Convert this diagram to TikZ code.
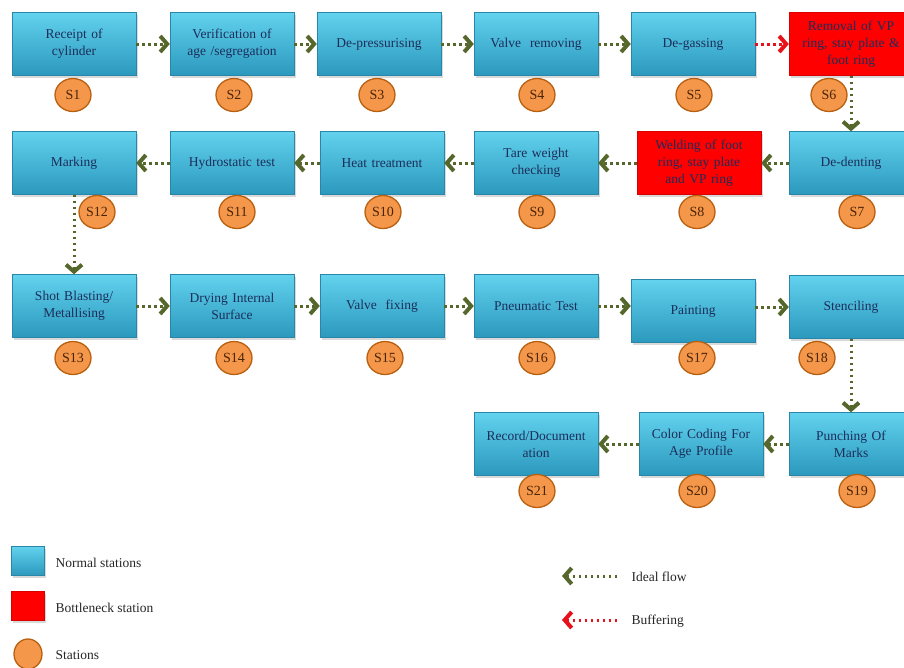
\documentclass[tikz,border=0pt]{standalone}
\usepackage{fontspec}
\setmainfont{Liberation Serif}
\usetikzlibrary{arrows.meta,shadows,shapes.geometric}
\definecolor{boxtop}{HTML}{62D2EE}
\definecolor{boxbot}{HTML}{2B98BD}
\definecolor{boxedge}{HTML}{2A86A6}
\definecolor{boxtext}{HTML}{1C2E5A}
\definecolor{numfill}{HTML}{F5974A}
\definecolor{numedge}{HTML}{B8600F}
\definecolor{numtext}{HTML}{4A2508}
\definecolor{flowgreen}{HTML}{56672C}
\definecolor{bufred}{HTML}{E8101A}
\newcommand\boxfont{\fontsize{13.5}{17}\selectfont}
\newcommand\numfont{\fontsize{14}{16}\selectfont}
\newcommand\legfont{\fontsize{13.5}{15}\selectfont}
\tikzset{
  station/.style={draw=boxedge, top color=boxtop, bottom color=boxbot,
    minimum width=124pt, minimum height=63pt, text width=112pt, align=center,
    inner sep=1pt, font=\boxfont, text=boxtext,
    drop shadow={opacity=0.3, shadow xshift=1.5pt, shadow yshift=-2pt}},
  bottleneck/.style={station, top color=red, bottom color=red, draw=red!85!black},
  stnum/.style={ellipse, draw=numedge, line width=1.3pt, fill=numfill,
    minimum width=36pt, minimum height=33pt, inner sep=0pt, font=\numfont, text=numtext},
  flow/.style={draw=flowgreen, line width=3pt, dash pattern=on 2.5pt off 3.5pt,
    -{Straight Barb[length=7pt, width=16pt, line width=4pt]}},
  buffer/.style={flow, draw=bufred},
  legtext/.style={anchor=west, font=\legfont, text=black!85}
}
\begin{document}
\begin{tikzpicture}[x=1pt, y=-1pt]
\useasboundingbox (0,0) rectangle (904,667);

\node[station] (b1) at (74,44) {Receipt of\\cylinder};
\node[station] (b2) at (232,44) {Verification of\\age /segregation};
\node[station] (b3) at (379,44) {De-pressurising};
\node[station] (b4) at (536,44) {Valve~ removing};
\node[station] (b5) at (693,44) {De-gassing};
\node[bottleneck] (b6) at (851,44) {Removal of VP\\ring, stay plate \&\\foot ring};

\node[station] (b12) at (74,163) {Marking};
\node[station] (b11) at (232,163) {Hydrostatic test};
\node[station] (b10) at (382,163) {Heat treatment};
\node[station] (b9) at (536,163) {Tare weight\\checking};
\node[bottleneck] (b8) at (699,163) {Welding of foot\\ring, stay plate\\and VP ring};
\node[station] (b7) at (851,163) {De-denting};

\node[station] (b13) at (74,306) {Shot Blasting/\\Metallising};
\node[station] (b14) at (232,306) {Drying Internal\\Surface};
\node[station] (b15) at (382,306) {Valve~ fixing};
\node[station] (b16) at (536,306) {Pneumatic Test};
\node[station] (b17) at (693,311) {Painting};
\node[station] (b18) at (851,307) {Stenciling};

\node[station] (b21) at (536,444) {Record/Document\\ation};
\node[station] (b20) at (701,444) {Color Coding For\\Age Profile};
\node[station] (b19) at (851,444) {Punching Of\\Marks};

\node[stnum] (c1) at (73,95) {S1};
\node[stnum] (c2) at (234,95) {S2};
\node[stnum] (c3) at (377,95) {S3};
\node[stnum] (c4) at (537,95) {S4};
\node[stnum] (c5) at (694,95) {S5};
\node[stnum] (c6) at (829,95) {S6};
\node[stnum] (c7) at (857,212) {S7};
\node[stnum] (c8) at (697,212) {S8};
\node[stnum] (c9) at (537,212) {S9};
\node[stnum] (c10) at (383,212) {S10};
\node[stnum] (c11) at (237,212) {S11};
\node[stnum] (c12) at (97,212) {S12};
\node[stnum] (c13) at (73,358) {S13};
\node[stnum] (c14) at (234,358) {S14};
\node[stnum] (c15) at (385,358) {S15};
\node[stnum] (c16) at (537,358) {S16};
\node[stnum] (c17) at (697,358) {S17};
\node[stnum] (c18) at (817,358) {S18};
\node[stnum] (c19) at (857,491) {S19};
\node[stnum] (c20) at (697,491) {S20};
\node[stnum] (c21) at (537,491) {S21};

\draw[flow] (b1) -- (b2);
\draw[flow] (b2) -- (b3);
\draw[flow] (b3) -- (b4);
\draw[flow] (b4) -- (b5);
\draw[buffer] (b5) -- (b6);
\draw[flow] (b6) -- (b7);
\draw[flow] (b7) -- (b8);
\draw[flow] (b8) -- (b9);
\draw[flow] (b9) -- (b10);
\draw[flow] (b10) -- (b11);
\draw[flow] (b11) -- (b12);
\draw[flow] (b12) -- (b13);
\draw[flow] (b13) -- (b14);
\draw[flow] (b14) -- (b15);
\draw[flow] (b15) -- (b16);
\draw[flow] (b16.east) -- (b17.west |- b16.east);
\draw[flow] (b17.east |- b18.west) -- (b18.west);
\draw[flow] (b18) -- (b19);
\draw[flow] (b19) -- (b20);
\draw[flow] (b20) -- (b21);

% legend
\node[station, minimum width=33pt, minimum height=29pt, text width=, inner sep=0pt] (lnormal) at (28,561) {};
\node[legtext] (tnormal) at (52,563) {Normal stations};
\node[bottleneck, minimum width=33pt, minimum height=29pt, text width=, inner sep=0pt] (lbottle) at (28,606) {};
\node[legtext] (tbottle) at (52,608) {Bottleneck station};
\node[stnum, minimum width=28pt, minimum height=30pt] (lstation) at (28,654) {};
\node[legtext] (tstation) at (52,655) {Stations};

\coordinate (iftail) at (617,576);
\coordinate (ifhead) at (562,576);
\draw[flow] (iftail) -- (ifhead);
\node[legtext] (tideal) at (628,577) {Ideal flow};
\coordinate (buftail) at (617,620);
\coordinate (bufhead) at (562,620);
\draw[buffer] (buftail) -- (bufhead);
\node[legtext] (tbuffer) at (628,621) {Buffering};
\end{tikzpicture}
\end{document}
